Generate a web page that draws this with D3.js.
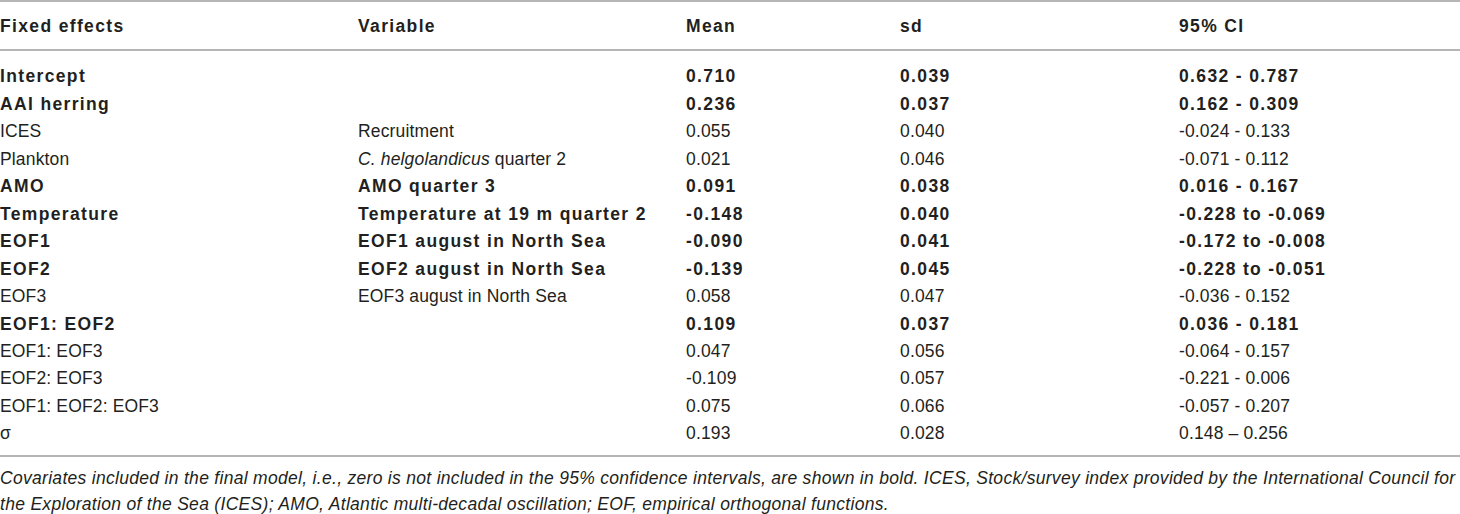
<!DOCTYPE html>
<html><head><meta charset="utf-8">
<script src="https://cdn.jsdelivr.net/npm/d3@7"></script>
<style>
html,body{margin:0;padding:0;background:#fff;}
svg{display:block;}
text{font-family:"Liberation Sans",Arial,Helvetica,sans-serif;fill:#231f20;}
</style></head>
<body>
<svg id="chart" width="1460" height="514"></svg>
<script>
const headers = ["Fixed effects", "Variable", "Mean", "sd", "95% CI"];
const fixedEffects = ["Intercept", "AAI herring", "ICES", "Plankton", "AMO", "Temperature", "EOF1", "EOF2", "EOF3", "EOF1: EOF2", "EOF1: EOF3", "EOF2: EOF3", "EOF1: EOF2: EOF3", "σ"];
const variables = ["", "", "Recruitment", "C. helgolandicus| quarter 2", "AMO quarter 3", "Temperature at 19 m quarter 2", "EOF1 august in North Sea", "EOF2 august in North Sea", "EOF3 august in North Sea", "", "", "", "", ""];
const means = ["0.710", "0.236", "0.055", "0.021", "0.091", "-0.148", "-0.090", "-0.139", "0.058", "0.109", "0.047", "-0.109", "0.075", "0.193"];
const sds = ["0.039", "0.037", "0.040", "0.046", "0.038", "0.040", "0.041", "0.045", "0.047", "0.037", "0.056", "0.057", "0.066", "0.028"];
const cis = ["0.632 - 0.787", "0.162 - 0.309", "-0.024 - 0.133", "-0.071 - 0.112", "0.016 - 0.167", "-0.228 to -0.069", "-0.172 to -0.008", "-0.228 to -0.051", "-0.036 - 0.152", "0.036 - 0.181", "-0.064 - 0.157", "-0.221 - 0.006", "-0.057 - 0.207", "0.148 – 0.256"];
const boldRows = [true, true, false, false, true, true, true, true, false, true, false, false, false, false];
const captionLines = [
  "Covariates included in the final model, i.e., zero is not included in the 95% confidence intervals, are shown in bold. ICES, Stock/survey index provided by the International Council for",
  "the Exploration of the Sea (ICES); AMO, Atlantic multi-decadal oscillation; EOF, empirical orthogonal functions."
];

const svg = d3.select("#chart");
const W = 1460;
const fs = 17.5;
const lsBold = "1.35px", lsReg = "0.15px", lsCap = "0.3px";

const x = d3.scaleOrdinal().domain(headers).range([0, 358, 686, 900, 1179]);
const rows = d3.range(fixedEffects.length);
const y = d3.scalePoint().domain(rows).range([76, 433]);

const lineColor = "#9d9d9d";
[1, 50, 456].forEach(v => svg.append("line").attr("x1", 0).attr("x2", W).attr("y1", v).attr("y2", v)
  .attr("stroke", lineColor).attr("stroke-width", 1.6));

// header
svg.selectAll("text.h").data(headers).join("text").attr("class", "h")
  .attr("x", d => x(d)).attr("y", 26 + 6.4)
  .attr("font-size", fs).attr("font-weight", "bold").attr("letter-spacing", lsBold)
  .text(d => d);

const cols = [fixedEffects, variables, means, sds, cis];
cols.forEach((arr, ci) => {
  const g = svg.append("g");
  g.selectAll("text").data(rows).join("text")
    .attr("x", x(headers[ci])).attr("y", i => y(i) + 6.4)
    .attr("font-size", fs)
    .attr("letter-spacing", i => boldRows[i] ? lsBold : lsReg)
    .attr("font-weight", i => boldRows[i] ? "bold" : "normal")
    .each(function(i) {
      const s = arr[i];
      const t = d3.select(this);
      if (s.includes("|")) {
        const [a, b] = s.split("|");
        t.append("tspan").attr("font-style", "italic").text(a);
        t.append("tspan").text(b);
      } else t.text(s);
    });
});

svg.selectAll("text.cap").data(captionLines).join("text").attr("class", "cap")
  .attr("x", 0).attr("y", (d, i) => 484 + i * 25.5)
  .attr("font-size", fs).attr("font-style", "italic").attr("letter-spacing", lsCap)
  .text(d => d);
</script>
</body></html>
